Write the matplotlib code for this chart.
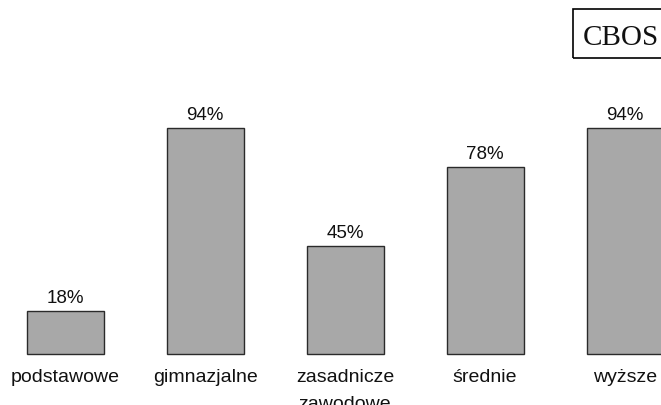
import matplotlib
matplotlib.use("Agg")
import matplotlib.pyplot as plt
from matplotlib.patches import Rectangle

categories = ["podstawowe", "gimnazjalne", "zasadnicze\nzawodowe", "średnie", "wyższe"]
values = [18, 94, 45, 78, 94]
value_labels = ["18%", "94%", "45%", "78%", "94%"]

W, H = 661, 406
PX = 2.4  # pixels per percent
fig = plt.figure(figsize=(W / 100, H / 100), dpi=100)
fig.patch.set_facecolor("white")

ax = fig.add_axes([0, 0, 1, 1])
# pixel layout: bar centres at 65 + 140*i, baseline at y=355 px
ax.set_xlim(-65 / 140, (W - 65) / 140)
ax.set_ylim(-(H - 355) / PX, 355 / PX)
ax.axis("off")

x = list(range(len(categories)))
ax.bar(x, values, width=77 / 140, color="#a8a8a8", edgecolor="#2a2a2a", linewidth=1.0)

font = ["Liberation Sans", "DejaVu Sans"]
for xi, v, lab in zip(x, values, value_labels):
    ax.text(xi, v + 9 / PX, lab, ha="center", va="baseline",
            fontsize=13.5, family=font, color="#111111")

for xi, cat in zip(x, categories):
    for k, line in enumerate(cat.split("\n")):
        ax.text(xi, -(27 + 27 * k) / PX, line, ha="center", va="baseline",
                fontsize=14, family=font, color="#111111")

# CBOS box in top right corner
fig.patches.append(Rectangle((573 / W, 1 - 59 / H), 100 / W, 49 / H,
                             transform=fig.transFigure, fill=False,
                             edgecolor="black", linewidth=1.2))
fig.text(583 / W, 1 - 45 / H, "CBOS", ha="left", va="baseline",
         fontsize=21, family="Liberation Serif", color="#111111")

fig.savefig("out.png", dpi=100)
